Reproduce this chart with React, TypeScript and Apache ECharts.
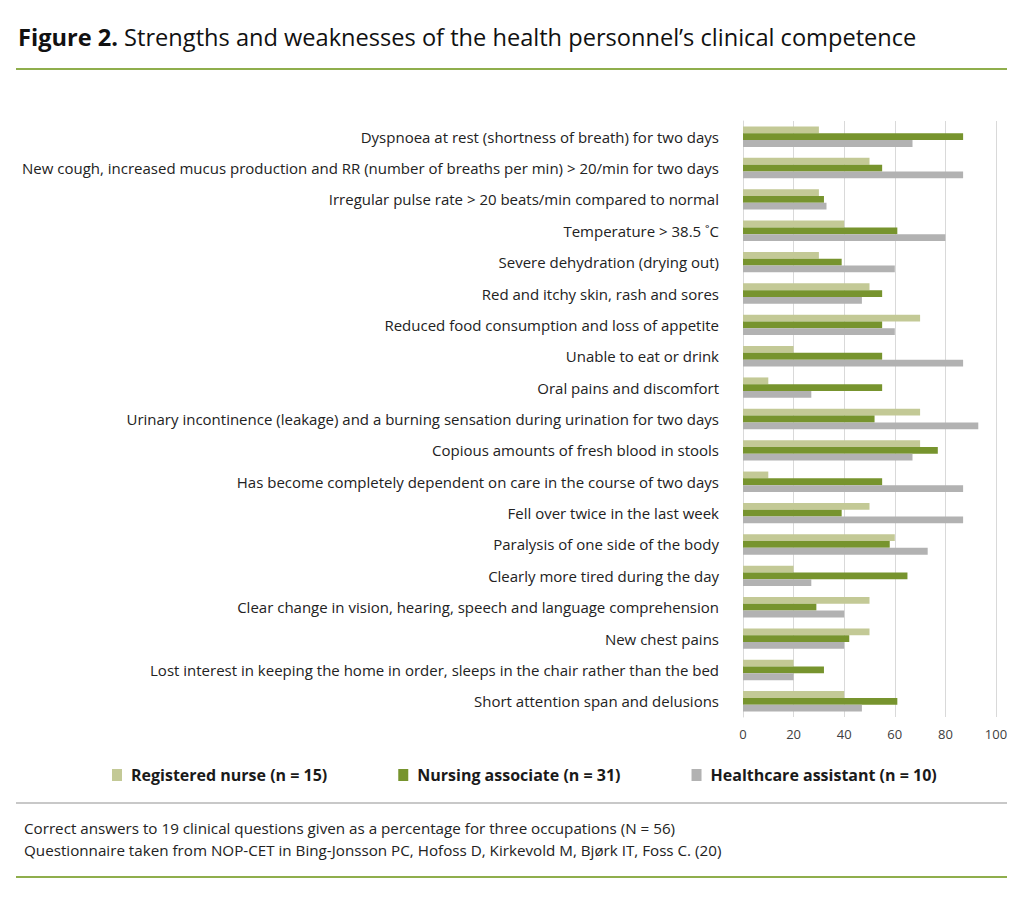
import React, { useEffect, useRef } from "react";
import * as echarts from "echarts";

const categories = [
  "Dyspnoea at rest (shortness of breath) for two days",
  "New cough, increased mucus production and RR (number of breaths per min) > 20/min for two days",
  "Irregular pulse rate > 20 beats/min compared to normal",
  "Temperature > 38.5 ˚C",
  "Severe dehydration (drying out)",
  "Red and itchy skin, rash and sores",
  "Reduced food consumption and loss of appetite",
  "Unable to eat or drink",
  "Oral pains and discomfort",
  "Urinary incontinence (leakage) and a burning sensation during urination for two days",
  "Copious amounts of fresh blood in stools",
  "Has become completely dependent on care in the course of two days",
  "Fell over twice in the last week",
  "Paralysis of one side of the body",
  "Clearly more tired during the day",
  "Clear change in vision, hearing, speech and language comprehension",
  "New chest pains",
  "Lost interest in keeping the home in order, sleeps in the chair rather than the bed",
  "Short attention span and delusions",
];

const registeredNurse = [30, 50, 30, 40, 30, 50, 70, 20, 10, 70, 70, 10, 50, 60, 20, 50, 50, 20, 40];
const nursingAssociate = [87, 55, 32, 61, 39, 55, 55, 55, 55, 52, 77, 55, 39, 58, 65, 29, 42, 32, 61];
const healthcareAssistant = [67, 87, 33, 80, 60, 47, 60, 87, 27, 93, 67, 87, 87, 73, 27, 40, 40, 20, 47];

const seriesNames = [
  "Registered nurse (n = 15)",
  "Nursing associate (n = 31)",
  "Healthcare assistant (n = 10)",
];

const xTicks = [0, 20, 40, 60, 80, 100];

const titleBold = "Figure 2.";
const titleRest = " Strengths and weaknesses of the health personnel’s clinical competence";
const footerLines = [
  "Correct answers to 19 clinical questions given as a percentage for three occupations (N = 56)",
  "Questionnaire taken from NOP-CET in Bing-Jonsson PC, Hofoss D, Kirkevold M, Bjørk IT, Foss C. (20)",
];

const FONT = "'Open Sans', 'Noto Sans', sans-serif";

export default function App() {
  const ref = useRef<HTMLDivElement>(null);

  useEffect(() => {
    document.body.style.margin = "0";
    if (!ref.current) return;
    const chart = echarts.init(ref.current, undefined, { renderer: "svg" });
    const colors = ["#c3c996", "#77942e", "#b2b2b2"];
    const data = [registeredNurse, nursingAssociate, healthcareAssistant];
    chart.setOption({
      animation: false,
      backgroundColor: "#ffffff",
      textStyle: { fontFamily: FONT },
      grid: { left: 743, right: 28, top: 121, bottom: 186, containLabel: false },
      legend: {
        top: 762,
        left: 107,
        itemWidth: 10,
        itemHeight: 12,
        itemGap: 71,
        icon: "rect",
        textStyle: { fontFamily: FONT, fontSize: 16, fontWeight: "bold", color: "#1a1a1a", padding: [0, 0, 0, 4] },
        data: seriesNames,
      },
      xAxis: {
        type: "value",
        min: 0,
        max: 100,
        interval: 20,
        axisLine: { show: false },
        axisTick: { show: false },
        splitLine: { show: true, lineStyle: { color: "#d9d9d9", width: 1 } },
        axisLabel: {
          fontFamily: FONT,
          fontSize: 13,
          color: "#404040",
          margin: 10,
          formatter: (v: number) => (xTicks.includes(v) ? String(v) : ""),
        },
      },
      yAxis: {
        type: "category",
        inverse: true,
        data: categories,
        axisLine: { show: true, lineStyle: { color: "#d9d9d9", width: 1 } },
        axisTick: { show: false },
        axisLabel: { fontFamily: FONT, fontSize: 15, color: "#222222", margin: 24 },
      },
      series: seriesNames.map((name, i) => ({
        name,
        type: "bar",
        data: data[i],
        barGap: "0%",
        barCategoryGap: "35%",
        itemStyle: { color: colors[i] },
      })),
      graphic: [
        {
          type: "text",
          left: 18,
          top: 25,
          style: {
            text: `{b|${titleBold}}{r|${titleRest}}`,
            rich: {
              b: { fontFamily: FONT, fontSize: 23.6, fontWeight: "bold", fill: "#111111" },
              r: { fontFamily: FONT, fontSize: 23.6, fill: "#111111" },
            },
          },
        },
        {
          type: "line",
          shape: { x1: 16, y1: 69, x2: 1007, y2: 69 },
          style: { stroke: "#8fae4c", lineWidth: 2 },
        },
        {
          type: "line",
          shape: { x1: 16, y1: 803, x2: 1007, y2: 803 },
          style: { stroke: "#c8c8c8", lineWidth: 2 },
        },
        {
          type: "text",
          left: 24,
          top: 820,
          style: { text: footerLines[0], fontFamily: FONT, fontSize: 15.2, fill: "#222222" },
        },
        {
          type: "text",
          left: 24,
          top: 842,
          style: { text: footerLines[1], fontFamily: FONT, fontSize: 15.2, fill: "#222222" },
        },
        {
          type: "line",
          shape: { x1: 16, y1: 877, x2: 1007, y2: 877 },
          style: { stroke: "#8fae4c", lineWidth: 2 },
        },
      ],
    });
    return () => chart.dispose();
  }, []);

  return <div ref={ref} style={{ width: 1024, height: 903 }} />;
}
